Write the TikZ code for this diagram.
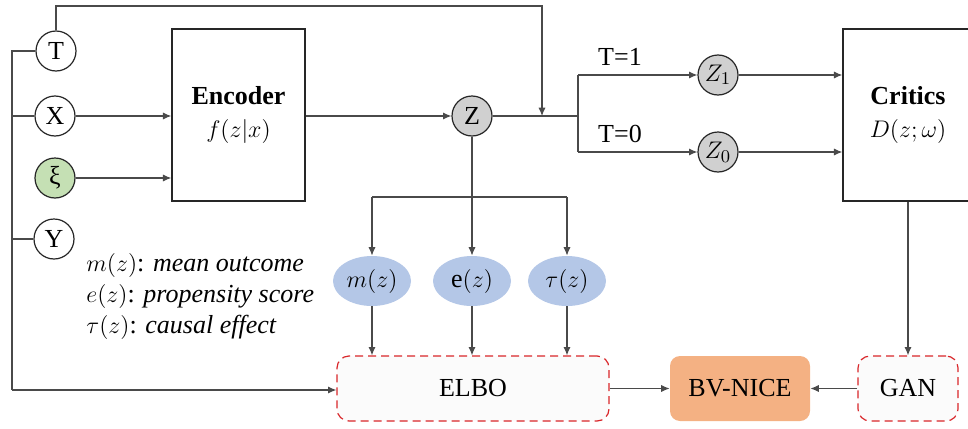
\documentclass[tikz,border=0pt]{standalone}
\usepackage{fontspec}
\setmainfont{Liberation Serif}
\usetikzlibrary{arrows.meta,shapes.geometric,calc}
\definecolor{wiregray}{HTML}{4A4A4A}
\definecolor{nodegray}{HTML}{D0D0D0}
\definecolor{noisegreen}{HTML}{C5E0B4}
\definecolor{headblue}{HTML}{B4C7E7}
\definecolor{lossorange}{HTML}{F4B183}
\definecolor{lossred}{HTML}{D9262A}
\definecolor{lossfill}{HTML}{FBFBFB}
\begin{document}
\begin{tikzpicture}[x=0.5pt,y=-0.5pt,
  font=\fontsize{13}{15.5}\selectfont,
  wire/.style={draw=wiregray, line width=0.55pt},
  arr/.style={wire,-{Latex[length=4.2pt,width=3.6pt]}},
  var/.style={circle,draw=black!85,line width=0.6pt,minimum size=20pt,inner sep=0pt},
  latent/.style={var,fill=nodegray},
  block/.style={draw=black!85,line width=0.7pt,fill=white,align=center,inner sep=0pt},
  head/.style={ellipse,fill=headblue,minimum width=39pt,minimum height=25pt,inner sep=0pt},
  loss/.style={draw=lossred,line width=0.6pt,dash pattern=on 4pt off 2.5pt,
               rounded corners=6pt,fill=lossfill,minimum height=32.5pt,inner sep=0pt},
]
\useasboundingbox (0,0) rectangle (968,428);

% inputs
\node[var] (T) at (56,51) {T};
\node[var] (X) at (55,116) {X};
\node[var,fill=noisegreen] (xi) at (55,178) {ξ};
\node[var] (Y) at (54,239) {Y};

% encoder and latent
\node[block,minimum width=66.5pt,minimum height=86pt] (enc) at (238.5,115)
  {\textbf{Encoder}\\[1pt] $f(z|x)$};
\node[latent] (Z) at (472,116) {Z};

% treatment split
\coordinate (J) at (542,116);
\coordinate (S) at (578,116);
\coordinate (S1) at (578,75);
\coordinate (S0) at (578,152);
\node[latent] (Z1) at (718,75) {$Z_1$};
\node[latent] (Z0) at (718,152) {$Z_0$};
\node at (620,57) {T=1};
\node at (620,134) {T=0};

% critics
\node[block,minimum width=65pt,minimum height=86pt] (crit) at (908,115)
  {\textbf{Critics}\\[1pt] $D(z;\omega)$};

% heads
\coordinate (ZB) at (472,197);
\coordinate (MB) at (372,197);
\coordinate (TB) at (567,197);
\node[head] (m) at (372,281) {$m(z)$};
\node[head] (e) at (472,281) {$\mathrm{e}(z)$};
\node[head] (tau) at (567,281) {$\tau(z)$};

% legend
\node[anchor=north west,align=left,inner sep=0pt,
      font=\fontsize{13}{15.5}\selectfont] (legend) at (86,253)
  {$m(z)$: \textit{mean outcome}\\
   $e(z)$: \textit{propensity score}\\
   $\tau(z)$: \textit{causal effect}};

% losses
\node[loss,minimum width=136pt] (elbo) at (473,388.5) {ELBO};
\node[fill=lossorange,rounded corners=5pt,minimum width=70pt,minimum height=32.5pt,
      inner sep=0pt] (nice) at (740,388.5) {BV-NICE};
\node[loss,minimum width=50pt] (gan) at (908,388.5) {GAN};

% left bus from T, X, Y to ELBO
\coordinate (L0) at (12,51);
\coordinate (L1) at (12,116);
\coordinate (L2) at (12,239);
\coordinate (L3) at (12,390);
\draw[wire] (T.west) -- (L0) -- (L3);
\draw[wire] (X.west) -- (L1);
\draw[wire] (Y.west) -- (L2);
\draw[arr] (L3) -- (elbo.west |- L3);

% encoder inputs and output
\draw[arr] (X) -- (enc.west |- X);
\draw[arr] (xi) -- (enc.west |- xi);
\draw[arr] (enc.east |- Z) -- (Z);

% T routed over the top into the split
\coordinate (TT) at (56,6);
\coordinate (TJ) at (542,6);
\draw[arr] (T.north) -- (TT) -- (TJ) -- (J);

% split into Z1 / Z0 and on to the critics
\draw[wire] (Z) -- (S);
\draw[wire] (S1) -- (S0);
\draw[arr] (S1) -- (Z1);
\draw[arr] (S0) -- (Z0);
\draw[arr] (Z1) -- (crit.west |- Z1);
\draw[arr] (Z0) -- (crit.west |- Z0);

% Z to the three heads
\draw[wire] (Z) -- (ZB);
\draw[wire] (MB) -- (TB);
\draw[arr] (MB) -- (m);
\draw[arr] (ZB) -- (e);
\draw[arr] (TB) -- (tau);

% heads into ELBO
\draw[arr] (m) -- (elbo.north -| m);
\draw[arr] (e) -- (elbo.north -| e);
\draw[arr] (tau) -- (elbo.north -| tau);

% critics to GAN, losses to BV-NICE
\draw[arr] (crit.south -| gan) -- (gan);
\draw[arr] (elbo) -- (nice);
\draw[arr] (gan) -- (nice);
\end{tikzpicture}
\end{document}
